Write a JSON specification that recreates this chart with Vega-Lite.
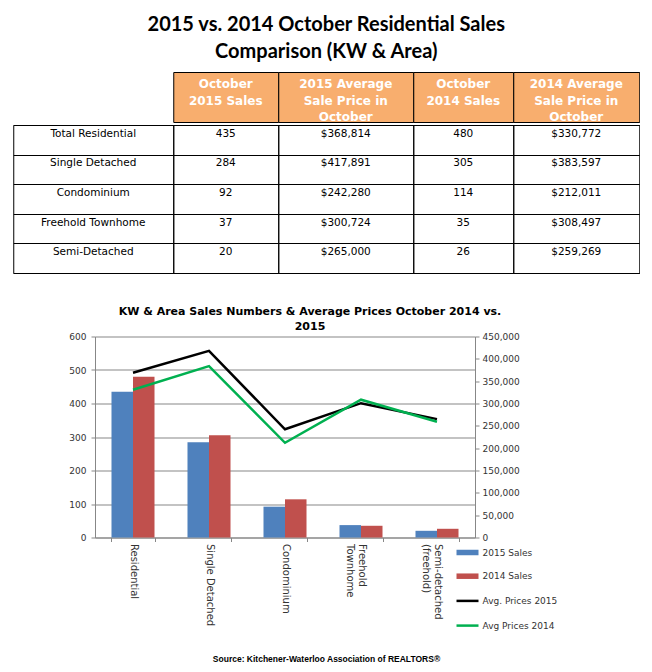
{
  "$schema": "https://vega.github.io/schema/vega-lite/v6.json",
  "padding": {"left": 12, "top": 14, "right": 0, "bottom": 0},
  "background": "white",
  "title": {
    "text": ["2015 vs. 2014 October Residential Sales", "Comparison (KW & Area)"],
    "font": "Lato", "fontSize": 20, "fontWeight": "bold", "lineHeight": 27,
    "anchor": "middle", "frame": "bounds", "offset": 10, "color": "black"
  },
  "datasets": {
    "headers": [
      {"column": "type", "label": ""},
      {"column": "sales2015", "label": "October\n2015 Sales"},
      {"column": "price2015", "label": "2015 Average\nSale Price in\nOctober"},
      {"column": "sales2014", "label": "October\n2014 Sales"},
      {"column": "price2014", "label": "2014 Average\nSale Price in\nOctober"}
    ],
    "table": [
      {"type": "Total Residential", "sales2015": 435, "price2015": 368814, "sales2014": 480, "price2014": 330772},
      {"type": "Single Detached", "sales2015": 284, "price2015": 417891, "sales2014": 305, "price2014": 383597},
      {"type": "Condominium", "sales2015": 92, "price2015": 242280, "sales2014": 114, "price2014": 212011},
      {"type": "Freehold Townhome", "sales2015": 37, "price2015": 300724, "sales2014": 35, "price2014": 308497},
      {"type": "Semi-Detached", "sales2015": 20, "price2015": 265000, "sales2014": 26, "price2014": 259269}
    ],
    "bars": [
      {"category": "Residential", "series": "2015 Sales", "sales": 435},
      {"category": "Residential", "series": "2014 Sales", "sales": 480},
      {"category": "Single Detached", "series": "2015 Sales", "sales": 284},
      {"category": "Single Detached", "series": "2014 Sales", "sales": 305},
      {"category": "Condominium", "series": "2015 Sales", "sales": 92},
      {"category": "Condominium", "series": "2014 Sales", "sales": 114},
      {"category": "Freehold Townhome", "series": "2015 Sales", "sales": 37},
      {"category": "Freehold Townhome", "series": "2014 Sales", "sales": 35},
      {"category": "Semi-detached (freehold)", "series": "2015 Sales", "sales": 20},
      {"category": "Semi-detached (freehold)", "series": "2014 Sales", "sales": 26}
    ],
    "prices": [
      {"category": "Residential", "series": "Avg. Prices 2015", "price": 368814},
      {"category": "Single Detached", "series": "Avg. Prices 2015", "price": 417891},
      {"category": "Condominium", "series": "Avg. Prices 2015", "price": 242280},
      {"category": "Freehold Townhome", "series": "Avg. Prices 2015", "price": 300724},
      {"category": "Semi-detached (freehold)", "series": "Avg. Prices 2015", "price": 265000},
      {"category": "Residential", "series": "Avg Prices 2014", "price": 330772},
      {"category": "Single Detached", "series": "Avg Prices 2014", "price": 383597},
      {"category": "Condominium", "series": "Avg Prices 2014", "price": 212011},
      {"category": "Freehold Townhome", "series": "Avg Prices 2014", "price": 308497},
      {"category": "Semi-detached (freehold)", "series": "Avg Prices 2014", "price": 259269}
    ]
  },
  "center": true,
  "spacing": 31.5,
  "resolve": {"scale": {"color": "independent"}, "legend": {"color": "independent"}},
  "vconcat": [
    {
      "spacing": 0,
      "vconcat": [
        {
          "spacing": 0,
          "bounds": "flush",
          "hconcat": [
            {"width": 160, "height": 50, "data": {"name": "headers"}, "transform": [{"filter": "datum.column == 'type'"}],
             "view": {"stroke": null, "fill": null},
             "mark": {"type": "text", "font": "DejaVu Sans", "fontWeight": "bold", "fontSize": 12, "color": "white", "lineBreak": "\n", "lineHeight": 16.5, "baseline": "top", "dy": -18},
             "encoding": {"text": {"field": "label"}}},
            {"width": 105, "height": 50, "data": {"name": "headers"}, "transform": [{"filter": "datum.column == 'sales2015'"}],
             "view": {"stroke": "black", "strokeWidth": 1, "fill": "#F8AE6E"},
             "mark": {"type": "text", "font": "DejaVu Sans", "fontWeight": "bold", "fontSize": 12, "color": "white", "lineBreak": "\n", "lineHeight": 16.5, "baseline": "top", "dy": -18},
             "encoding": {"text": {"field": "label"}}},
            {"width": 135, "height": 50, "data": {"name": "headers"}, "transform": [{"filter": "datum.column == 'price2015'"}],
             "view": {"stroke": "black", "strokeWidth": 1, "fill": "#F8AE6E"},
             "mark": {"type": "text", "font": "DejaVu Sans", "fontWeight": "bold", "fontSize": 12, "color": "white", "lineBreak": "\n", "lineHeight": 16.5, "baseline": "top", "dy": -18},
             "encoding": {"text": {"field": "label"}}},
            {"width": 100, "height": 50, "data": {"name": "headers"}, "transform": [{"filter": "datum.column == 'sales2014'"}],
             "view": {"stroke": "black", "strokeWidth": 1, "fill": "#F8AE6E"},
             "mark": {"type": "text", "font": "DejaVu Sans", "fontWeight": "bold", "fontSize": 12, "color": "white", "lineBreak": "\n", "lineHeight": 16.5, "baseline": "top", "dy": -18},
             "encoding": {"text": {"field": "label"}}},
            {"width": 126, "height": 50, "data": {"name": "headers"}, "transform": [{"filter": "datum.column == 'price2014'"}],
             "view": {"stroke": "black", "strokeWidth": 1, "fill": "#F8AE6E"},
             "mark": {"type": "text", "font": "DejaVu Sans", "fontWeight": "bold", "fontSize": 12, "color": "white", "lineBreak": "\n", "lineHeight": 16.5, "baseline": "top", "dy": -18},
             "encoding": {"text": {"field": "label"}}}
          ]
        },
        {
          "spacing": 0,
          "bounds": "flush",
          "hconcat": [
            {"width": 160, "height": 148, "data": {"name": "table"},
             "view": {"stroke": "black", "strokeWidth": 1},
             "mark": {"type": "text", "font": "DejaVu Sans", "fontSize": 10.5, "color": "black", "dy": -6},
             "encoding": {
               "y": {"field": "type", "type": "nominal", "sort": null, "scale": {"type": "band", "paddingInner": 0, "paddingOuter": 0},
                     "axis": {"title": null, "labels": false, "ticks": false, "domain": false, "grid": true, "gridColor": "black", "gridOpacity": 1, "tickBand": "extent"}},
               "text": {"field": "type", "type": "nominal"}}},
            {"width": 105, "height": 148, "data": {"name": "table"},
             "view": {"stroke": "black", "strokeWidth": 1},
             "mark": {"type": "text", "font": "DejaVu Sans", "fontSize": 10.5, "color": "black", "dy": -6},
             "encoding": {
               "y": {"field": "type", "type": "nominal", "sort": null, "scale": {"type": "band", "paddingInner": 0, "paddingOuter": 0},
                     "axis": {"title": null, "labels": false, "ticks": false, "domain": false, "grid": true, "gridColor": "black", "gridOpacity": 1, "tickBand": "extent"}},
               "text": {"field": "sales2015", "type": "quantitative"}}},
            {"width": 135, "height": 148, "data": {"name": "table"},
             "view": {"stroke": "black", "strokeWidth": 1},
             "mark": {"type": "text", "font": "DejaVu Sans", "fontSize": 10.5, "color": "black", "dy": -6},
             "encoding": {
               "y": {"field": "type", "type": "nominal", "sort": null, "scale": {"type": "band", "paddingInner": 0, "paddingOuter": 0},
                     "axis": {"title": null, "labels": false, "ticks": false, "domain": false, "grid": true, "gridColor": "black", "gridOpacity": 1, "tickBand": "extent"}},
               "text": {"field": "price2015", "type": "quantitative", "format": "$,"}}},
            {"width": 100, "height": 148, "data": {"name": "table"},
             "view": {"stroke": "black", "strokeWidth": 1},
             "mark": {"type": "text", "font": "DejaVu Sans", "fontSize": 10.5, "color": "black", "dy": -6},
             "encoding": {
               "y": {"field": "type", "type": "nominal", "sort": null, "scale": {"type": "band", "paddingInner": 0, "paddingOuter": 0},
                     "axis": {"title": null, "labels": false, "ticks": false, "domain": false, "grid": true, "gridColor": "black", "gridOpacity": 1, "tickBand": "extent"}},
               "text": {"field": "sales2014", "type": "quantitative"}}},
            {"width": 126, "height": 148, "data": {"name": "table"},
             "view": {"stroke": "black", "strokeWidth": 1},
             "mark": {"type": "text", "font": "DejaVu Sans", "fontSize": 10.5, "color": "black", "dy": -6},
             "encoding": {
               "y": {"field": "type", "type": "nominal", "sort": null, "scale": {"type": "band", "paddingInner": 0, "paddingOuter": 0},
                     "axis": {"title": null, "labels": false, "ticks": false, "domain": false, "grid": true, "gridColor": "black", "gridOpacity": 1, "tickBand": "extent"}},
               "text": {"field": "price2014", "type": "quantitative", "format": "$,"}}}
          ]
        }
      ]
    },
    {
      "spacing": 22,
      "center": true,
      "resolve": {"scale": {"color": "independent"}, "legend": {"color": "independent"}},
      "vconcat": [
        {
          "width": 380,
          "height": 201,
          "title": {
            "text": ["KW & Area Sales Numbers & Average Prices October 2014 vs.", "2015"],
            "font": "DejaVu Sans", "fontSize": 11, "fontWeight": "bold", "lineHeight": 14.5,
            "anchor": "middle", "frame": "group", "offset": 1, "dx": 25, "color": "black"
          },
          "view": {"stroke": null},
          "layer": [
            {
              "data": {"name": "bars"},
              "mark": {"type": "bar"},
              "encoding": {
                "x": {"field": "category", "type": "nominal", "sort": null,
                      "scale": {"domain": ["Residential", "Single Detached", "Condominium", "Freehold Townhome", "Semi-detached (freehold)"], "paddingInner": 0.434, "paddingOuter": 0.217},
                      "axis": {"title": null, "labelAngle": 90, "tickBand": "extent", "grid": false, "domainColor": "#878787", "tickColor": "#878787", "tickSize": 4, "labelPadding": 2,
                               "labelFont": "DejaVu Sans", "labelFontSize": 10, "labelColor": "#333333", "labelOverlap": false, "labelLineHeight": 12,
                               "labelExpr": "datum.value == 'Freehold Townhome' ? ['Freehold', 'Townhome'] : datum.value == 'Semi-detached (freehold)' ? ['Semi-detached', '(freehold)'] : datum.value"}},
                "xOffset": {"field": "series", "type": "nominal", "scale": {"domain": ["2015 Sales", "2014 Sales"]}},
                "y": {"field": "sales", "type": "quantitative", "scale": {"domain": [0, 600]},
                      "axis": {"title": null, "orient": "left", "values": [0, 100, 200, 300, 400, 500, 600], "grid": true, "gridColor": "#878787", "gridOpacity": 1,
                               "domainColor": "#878787", "tickColor": "#878787", "tickSize": 4, "labelPadding": 5,
                               "labelFont": "DejaVu Sans", "labelFontSize": 9, "labelColor": "#333333"}},
                "color": {"field": "series", "type": "nominal",
                          "scale": {"domain": ["2015 Sales", "2014 Sales", "Avg. Prices 2015", "Avg Prices 2014"], "range": ["#4F81BD", "#C0504D", "#000000", "#00B050"]},
                          "legend": {"title": null, "orient": "none", "legendX": 368, "legendY": 211.5, "padding": 0,
                                     "symbolSize": 484, "rowPadding": 13.7, "labelOffset": 10.5,
                                     "labelFont": "DejaVu Sans", "labelFontSize": 9, "labelColor": "#333333",
                                     "encode": {"symbols": {"update": {
                                       "shape": {"signal": "indexof(['2015 Sales', '2014 Sales'], datum.value) >= 0 ? 'M-1,-0.25H1V0.25H-1Z' : 'stroke'"},
                                       "strokeWidth": {"signal": "indexof(['2015 Sales', '2014 Sales'], datum.value) >= 0 ? 0 : 2.5"},
                                       "fill": {"scale": "color", "field": "value"},
                                       "stroke": {"scale": "color", "field": "value"},
                                       "opacity": {"value": 1},
                                       "fillOpacity": {"value": 1},
                                       "strokeOpacity": {"value": 1}}}}}}
              }
            },
            {
              "data": {"name": "prices"},
              "mark": {"type": "line", "strokeWidth": 2.5},
              "encoding": {
                "x": {"field": "category", "type": "nominal", "sort": null},
                "y": {"field": "price", "type": "quantitative", "scale": {"domain": [0, 450000]},
                      "axis": {"title": null, "orient": "right", "values": [0, 50000, 100000, 150000, 200000, 250000, 300000, 350000, 400000, 450000], "format": ",.0f",
                               "grid": false, "domainColor": "#878787", "tickColor": "#878787", "tickSize": 4, "labelPadding": 3,
                               "labelFont": "DejaVu Sans", "labelFontSize": 9, "labelColor": "#333333"}},
                "color": {"field": "series", "type": "nominal"}
              }
            }
          ],
          "resolve": {"scale": {"y": "independent"}}
        },
        {
          "width": 626,
          "height": 10,
          "data": {"values": [{"source": "Source: Kitchener-Waterloo Association of REALTORS®"}]},
          "view": {"stroke": null},
          "mark": {"type": "text", "font": "Liberation Sans", "fontWeight": "bold", "fontSize": 8.5, "color": "black"},
          "encoding": {"text": {"field": "source"}}
        }
      ]
    }
  ]
}
